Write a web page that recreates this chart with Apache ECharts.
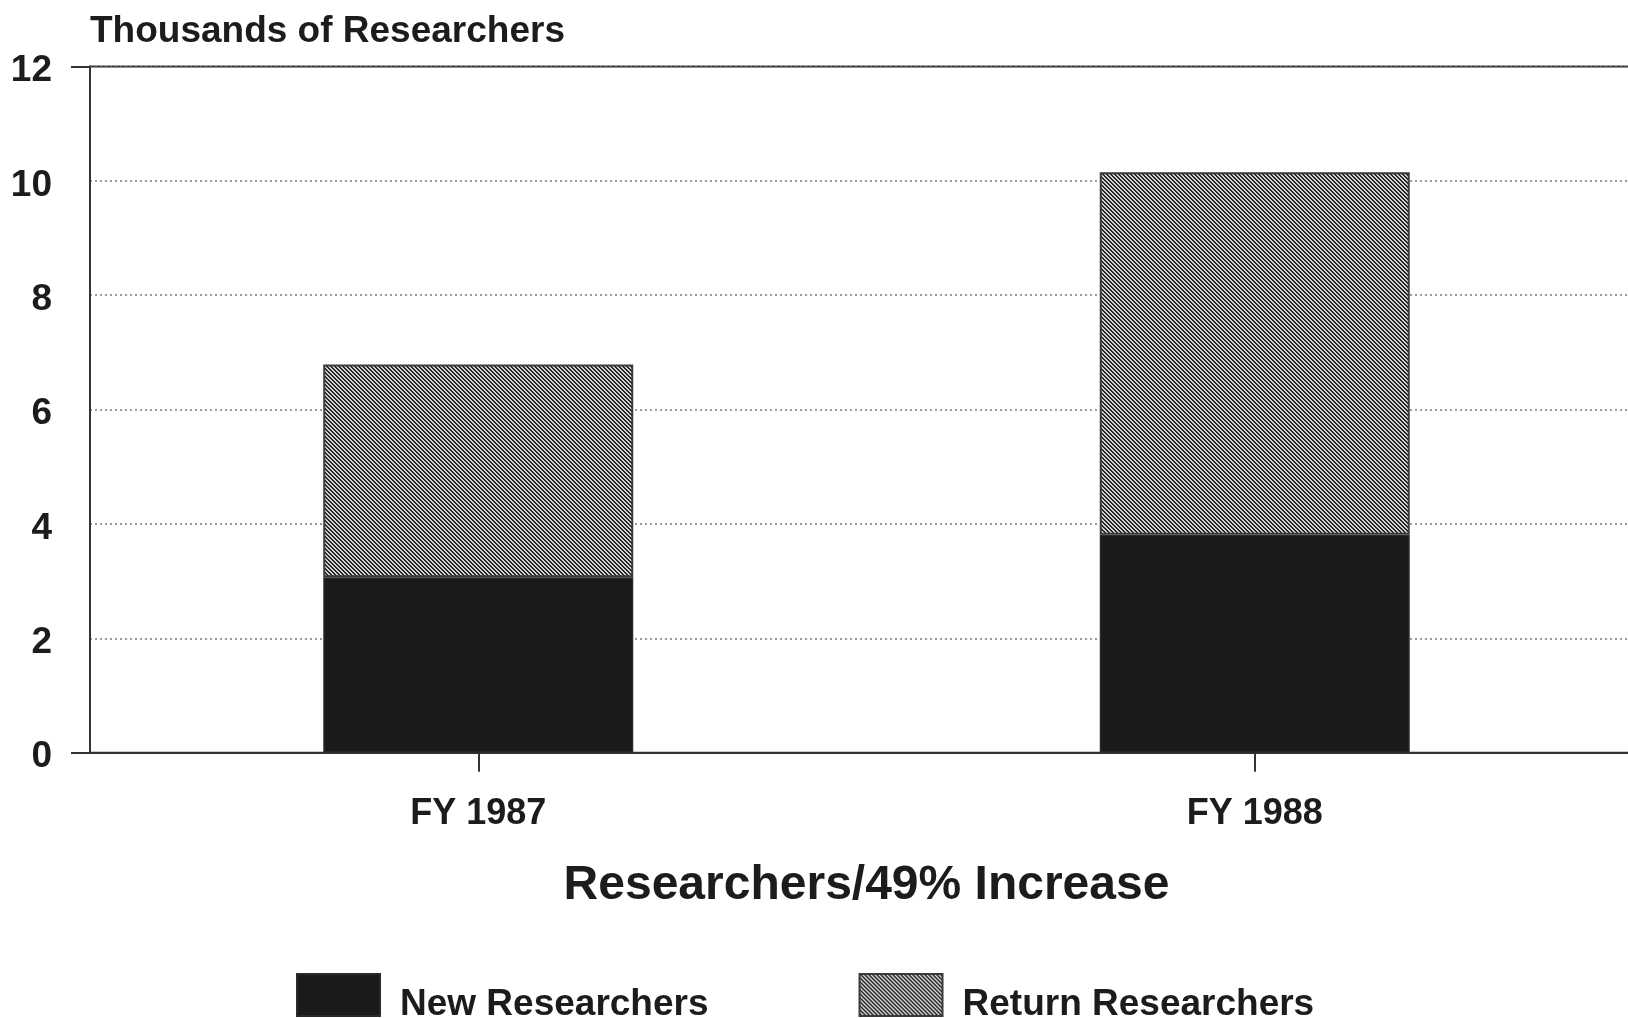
<!DOCTYPE html>
<html>
<head>
<meta charset="utf-8">
<script src="https://cdn.jsdelivr.net/npm/echarts@6/dist/echarts.min.js"></script>
<style>
  html, body { margin: 0; padding: 0; background: #ffffff; }
  #chart { width: 1628px; height: 1018px; }
</style>
</head>
<body>
<div id="chart"></div>
<script>
// Researchers per fiscal year, in thousands
const categories = ['FY 1987', 'FY 1988'];
const newResearchers = [3.07, 3.81];
const returnResearchers = [3.72, 6.34];
const yTicks = { min: 0, max: 12, interval: 2 };

const FONT = '"Liberation Sans", Arial, Helvetica, sans-serif';
const INK = '#1c1c1c';

// Fine diagonal hatching for the "Return Researchers" fill
function makeHatch() {
  const c = document.createElement('canvas');
  c.width = 4; c.height = 4;
  const g = c.getContext('2d');
  g.fillStyle = '#d0d0d0';
  g.fillRect(0, 0, 4, 4);
  g.fillStyle = '#282828';
  for (let y = 0; y < 4; y++) {
    g.fillRect(y, y, 1, 1);
    g.fillRect((y + 1) % 4, y, 1, 1);
  }
  return c;
}
const hatch = { image: makeHatch(), repeat: 'repeat' };

const chart = echarts.init(document.getElementById('chart'), null, { renderer: 'canvas' });

chart.setOption({
  backgroundColor: '#ffffff',
  animation: false,
  title: {
    text: 'Thousands of Researchers',
    left: 90,
    top: 13,
    padding: 0,
    textStyle: { fontFamily: FONT, fontWeight: 'bold', fontSize: 37, color: INK }
  },
  grid: {
    left: 90, top: 66.5, width: 1553, height: 686.2,
    outerBoundsMode: 'none',
    show: true, borderColor: '#333', borderWidth: 2, backgroundColor: 'transparent'
  },
  legend: {
    left: 296, top: 973, padding: 0,
    itemWidth: 83, itemHeight: 42, itemGap: 150,
    icon: 'rect',
    formatter: '{a|{name}}',
    textStyle: {
      fontFamily: FONT, fontWeight: 'bold', fontSize: 37, color: INK,
      rich: {
        a: { fontFamily: FONT, fontWeight: 'bold', fontSize: 37, color: INK, padding: [20, 0, 0, 15] }
      }
    },
    data: ['New Researchers', 'Return Researchers']
  },
  xAxis: {
    type: 'category',
    data: categories,
    boundaryGap: true,
    name: 'Researchers/49% Increase',
    nameLocation: 'middle',
    nameGap: 109,
    nameTextStyle: { fontFamily: FONT, fontWeight: 'bold', fontSize: 48, color: INK },
    axisLine: { show: true, lineStyle: { color: '#333', width: 2 } },
    axisTick: { show: true, alignWithLabel: true, length: 19, lineStyle: { color: '#333', width: 2 } },
    axisLabel: { margin: 43, fontFamily: FONT, fontWeight: 'bold', fontSize: 36, color: INK },
    splitLine: { show: false }
  },
  yAxis: [
    {
      type: 'value',
      min: yTicks.min, max: yTicks.max, interval: yTicks.interval,
      axisLine: { show: true, lineStyle: { color: '#333', width: 2 } },
      axisTick: { show: false },
      axisLabel: {
        margin: 38, fontFamily: FONT, fontWeight: 'bold', fontSize: 37, color: INK,
        verticalAlign: 'top', lineHeight: 9
      },
      splitLine: { show: true, lineStyle: { color: '#7a7a7a', width: 1.5, type: [2, 3] } }
    },
    {
      // outward ticks at the base and top of the frame
      type: 'value',
      position: 'left',
      min: yTicks.min, max: yTicks.max, interval: yTicks.max,
      axisLine: { show: false },
      axisTick: { show: true, length: 19, lineStyle: { color: '#333', width: 2 } },
      axisLabel: { show: false },
      splitLine: { show: false }
    }
  ],
  series: [
    {
      name: 'New Researchers',
      type: 'bar',
      stack: 'total',
      barWidth: 310,
      data: newResearchers,
      itemStyle: { color: '#1a1a1a', borderColor: '#2a2a2a', borderWidth: 1.5 }
    },
    {
      name: 'Return Researchers',
      type: 'bar',
      stack: 'total',
      barWidth: 310,
      data: returnResearchers,
      itemStyle: { color: hatch, borderColor: '#3a3a3a', borderWidth: 2 }
    }
  ]
});
</script>
</body>
</html>
